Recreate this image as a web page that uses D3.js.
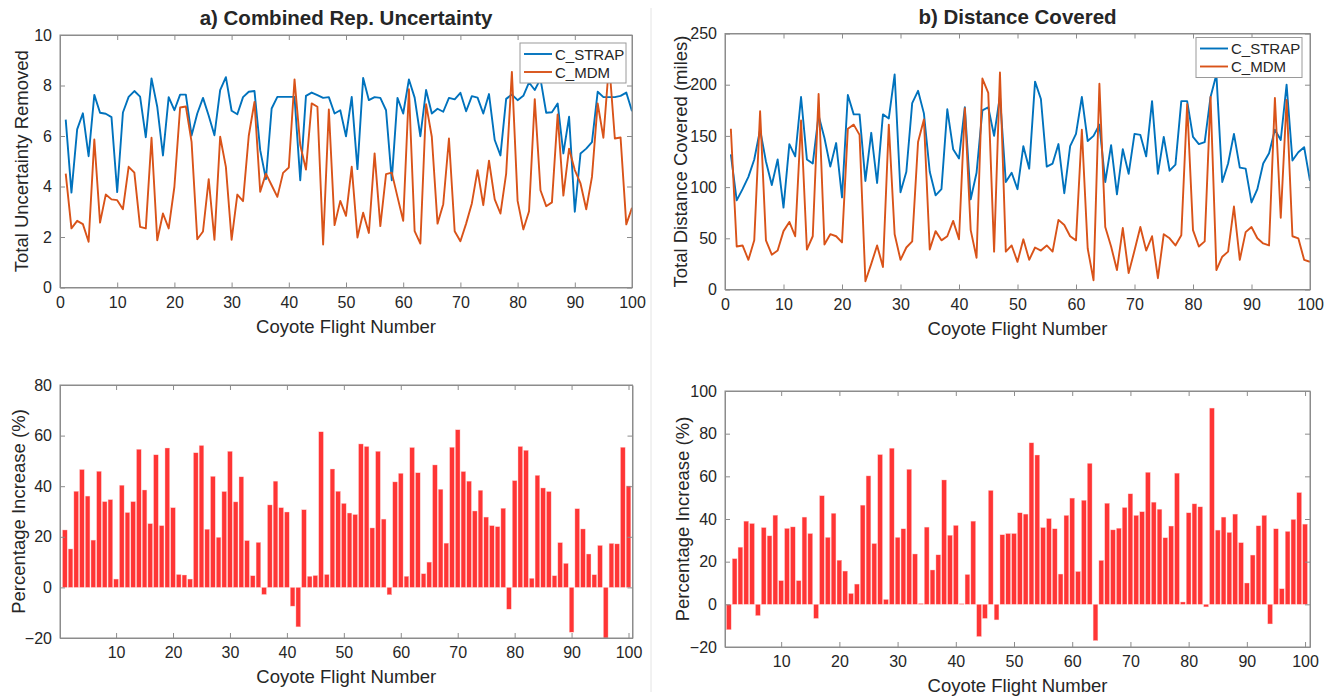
<!DOCTYPE html>
<html>
<head>
<meta charset="utf-8">
<script src="https://cdn.jsdelivr.net/npm/d3@7"></script>
<style>
  body { margin: 0; background: #fff; }
  text { font-family: "Liberation Sans", Arial, sans-serif; fill: #262626; }
</style>
</head>
<body>
<div id="chart"></div>
<script>
// flight numbers 1..100
const flights = d3.range(1, 101);

// a) combined rep. uncertainty removed
const strapUnc = [6.65,3.76,6.26,6.9,5.2,7.63,6.92,6.88,6.75,3.78,
  6.93,7.55,7.78,7.56,5.95,8.28,7.16,5.23,7.54,7.02,
  7.64,7.64,6.02,6.89,7.51,6.8,6.03,7.82,8.33,7.0,
  6.86,7.54,7.75,7.78,5.44,4.29,7.09,7.55,7.55,7.55,
  7.55,4.25,7.59,7.72,7.62,7.51,7.54,6.89,7.02,5.99,
  7.55,4.69,8.3,7.42,7.54,7.51,7.02,4.25,7.51,6.89,
  8.24,7.52,5.99,7.82,6.89,7.08,6.96,7.51,7.45,7.71,
  6.98,7.58,7.52,6.89,7.66,5.84,5.23,7.47,7.64,7.42,
  7.59,8.12,7.82,8.26,6.92,6.94,7.29,5.31,6.76,3.0,
  5.31,5.5,5.76,7.75,7.54,7.54,7.54,7.59,7.72,6.98];
const mdmUnc = [4.51,2.34,2.64,2.51,1.81,5.86,2.57,3.68,3.49,3.46,
  3.1,4.78,4.55,2.4,2.34,5.93,1.87,2.93,2.34,3.99,
  7.13,7.17,5.77,1.91,2.22,4.29,1.89,5.97,4.78,1.89,
  3.68,3.42,6.01,7.35,3.79,4.51,4.05,3.59,4.54,4.75,
  8.24,5.64,4.67,7.29,7.16,1.7,7.05,2.47,3.43,2.84,
  4.78,1.98,2.96,2.16,5.31,2.43,4.49,4.55,3.59,2.64,
  7.85,2.23,1.74,7.26,5.97,2.53,3.3,5.9,2.23,1.83,
  2.53,3.33,4.65,3.26,5.02,3.49,2.93,4.51,8.54,3.43,
  2.3,3.02,7.46,3.85,3.22,3.37,6.85,3.64,5.5,4.65,
  4.12,3.1,4.38,7.29,5.93,8.9,5.9,5.94,2.5,3.16];

// b) distance covered (miles)
const strapDist = [132,87,98,110,127,156,125,102,127,80,
  142,130,188,127,123,170,148,120,143,90,
  190,171,171,106,153,104,171,167,210,95,
  115,182,194,172,115,92,98,176,137,128,
  178,88,114,175,178,150,189,105,114,98,
  140,118,203,186,120,123,142,94,140,152,
  188,145,150,161,105,141,93,137,113,152,
  151,130,184,113,149,116,122,184,184,149,
  142,144,188,210,105,123,152,119,118,85,
  98,123,133,156,146,200,126,134,139,106];
const mdmDist = [157,42,43,29,48,174,48,34,38,57,
  66,52,165,39,52,191,44,54,52,46,
  157,161,151,8,25,43,22,161,54,29,
  41,47,144,166,39,57,48,52,67,49,
  177,58,31,206,192,37,212,37,43,27,
  49,29,41,38,43,37,68,63,52,48,
  156,40,9,201,61,42,19,60,16,38,
  61,38,52,11,54,50,43,53,181,58,
  42,47,188,19,32,37,81,29,56,61,
  50,45,43,187,70,185,52,50,29,27];

// percentage increase
const pctUnc = [22.7,15.2,38,46.6,36.1,18.7,45.9,33.9,34.7,3.3,
  40.4,29.6,33.9,54.6,38.5,25.2,52.4,24.4,55.1,31.5,
  5.1,4.9,3.3,53.2,56.1,23,43.9,19.8,37.9,53.8,
  33.8,43.7,18.5,4.6,17.8,-2.8,32.6,42,31.5,29.8,
  -7.4,-15.6,30.7,4.4,4.7,61.5,5.1,46.8,38,33.2,
  29.4,28.8,56.7,55.7,23.5,53.8,27,-2.9,41.7,45.1,
  4.4,55.3,45.3,5.4,10,48.4,38.8,17.5,55.4,62.3,
  45.8,42,30.2,38.4,27.8,24.4,24,31.3,-8.6,42.2,
  55.7,54.2,3.6,44.3,39.3,37.9,4.6,17.7,9.5,-17.7,
  31.1,23.1,13.2,5,16.6,-20,17.4,17.2,55.4,40.1];
const pctDist = [-11.9,21.4,26.8,39,37.9,-5.3,36,32.1,41.8,11.1,
  35.6,36.3,11.1,40.9,33.2,-6.6,50.9,31.4,42.7,20.7,
  15.6,5.1,9.5,46.5,60.2,28.5,70.2,2.3,73.2,31.4,
  35.4,63.3,23.6,0.4,36.2,16.1,23.2,58.3,32.4,37,
  0.3,14,39,-15.1,-6.6,53.4,-7.3,32.6,33.2,33.2,
  42.9,42.3,75.7,70,36,40.2,35.4,14.2,41.7,49.8,
  15.4,48.8,66.1,-17,20.6,47.4,34.9,35.7,45.4,51.8,
  41.7,43.4,61.9,47.9,44.6,31.2,36.7,61.5,1.1,42.9,
  47.1,45.7,-1.2,92,34.8,40.9,33.7,42.3,28.9,10,
  23.1,36.8,41.7,-9.2,35.4,7.3,34.2,39.8,52.4,37.6];

const blue = "#0072BD", orange = "#D95319", red = "#ff3535";
const axisCol = "#8c8c8c";

const svg = d3.select("#chart")
  .append("svg")
  .attr("width", 1334)
  .attr("height", 696);

// faint divider between the two halves
svg.append("line")
  .attr("x1", 651).attr("x2", 651).attr("y1", 8).attr("y2", 692)
  .attr("stroke", "#e4e4e4").attr("stroke-width", 1);

// draws the box + inward ticks, MATLAB style
function drawAxes(g, x, y, w, h, xTicks, yTicks) {
  g.append("rect")
    .attr("width", w).attr("height", h)
    .attr("fill", "none").attr("stroke", axisCol).attr("stroke-width", 1);

  // Add X axis
  g.append("g")
    .attr("transform", `translate(0, ${h})`)
    .call(d3.axisBottom(x).tickValues(xTicks).tickSizeInner(-5).tickSizeOuter(0).tickPadding(9));
  g.append("g")
    .call(d3.axisTop(x).tickValues(xTicks).tickSizeInner(-5).tickSizeOuter(0).tickFormat(""));

  // Add Y axis
  g.append("g")
    .call(d3.axisLeft(y).tickValues(yTicks).tickSizeInner(-5).tickSizeOuter(0).tickPadding(8));
  g.append("g")
    .attr("transform", `translate(${w}, 0)`)
    .call(d3.axisRight(y).tickValues(yTicks).tickSizeInner(-5).tickSizeOuter(0).tickFormat(""));

  g.selectAll(".domain").attr("stroke", axisCol);
  g.selectAll(".tick line").attr("stroke", axisCol);
  g.selectAll(".tick text")
    .attr("font-size", 16)
    .attr("font-family", "Liberation Sans, Arial, sans-serif")
    .attr("fill", "#262626");
}

function linePanel(box, seriesA, seriesB, yMax, yStep, ylabel, title, id) {
  const w = box.right - box.left, h = box.bottom - box.top;
  const g = svg.append("g").attr("transform", `translate(${box.left}, ${box.top})`);

  const x = d3.scaleLinear().domain([0, 100]).range([0, w]);
  const y = d3.scaleLinear().domain([0, yMax]).range([h, 0]);

  g.append("clipPath").attr("id", id)
    .append("rect").attr("width", w).attr("height", h);

  const line = d3.line()
    .x((d, i) => x(flights[i]))
    .y(d => y(d));

  // C_STRAP first, C_MDM drawn on top
  g.append("path").datum(seriesA)
    .attr("clip-path", `url(#${id})`)
    .attr("fill", "none").attr("stroke", blue).attr("stroke-width", 1.9)
    .attr("stroke-linejoin", "round")
    .attr("d", line);
  g.append("path").datum(seriesB)
    .attr("clip-path", `url(#${id})`)
    .attr("fill", "none").attr("stroke", orange).attr("stroke-width", 1.9)
    .attr("stroke-linejoin", "round")
    .attr("d", line);

  drawAxes(g, x, y, w, h, d3.range(0, 101, 10), d3.range(0, yMax + 1, yStep));

  // legend
  const lg = g.append("g").attr("transform", `translate(${box.legX}, ${box.legY})`);
  lg.append("rect").attr("width", 106).attr("height", 40)
    .attr("fill", "#fff").attr("stroke", "#9a9a9a").attr("stroke-width", 1);
  [["C_STRAP", blue], ["C_MDM", orange]].forEach((d, i) => {
    lg.append("line").attr("x1", 4).attr("x2", 32)
      .attr("y1", 11 + i * 18).attr("y2", 11 + i * 18)
      .attr("stroke", d[1]).attr("stroke-width", 1.9);
    lg.append("text").attr("x", 35).attr("y", 16.5 + i * 18)
      .attr("font-size", 15).text(d[0]);
  });

  g.append("text")
    .attr("x", w / 2).attr("y", h + 45)
    .attr("text-anchor", "middle").attr("font-size", 18.5)
    .text("Coyote Flight Number");
  g.append("text")
    .attr("transform", `translate(${box.ylabX}, ${h / 2}) rotate(-90)`)
    .attr("text-anchor", "middle").attr("font-size", 18.5)
    .text(ylabel);
  g.append("text")
    .attr("x", w / 2).attr("y", -10)
    .attr("text-anchor", "middle").attr("font-size", 20.5).attr("font-weight", "bold")
    .text(title);
}

function barPanel(box, values, yMin, yMax, id) {
  const w = box.right - box.left, h = box.bottom - box.top;
  const g = svg.append("g").attr("transform", `translate(${box.left}, ${box.top})`);

  const x = d3.scaleLinear().domain(box.xDom).range([0, w]);
  const y = d3.scaleLinear().domain([yMin, yMax]).range([h, 0]);
  const bw = (x(1) - x(0)) * 0.82;

  g.append("clipPath").attr("id", id)
    .append("rect").attr("width", w).attr("height", h);

  g.append("g").attr("clip-path", `url(#${id})`)
    .selectAll("rect")
    .data(values)
    .join("rect")
    .attr("x", (d, i) => x(flights[i]) - bw / 2)
    .attr("width", bw)
    .attr("y", d => y(Math.max(0, d)))
    .attr("height", d => Math.abs(y(d) - y(0)))
    .attr("fill", red)
    .attr("stroke", "#ffd0d0").attr("stroke-width", 0.4);

  drawAxes(g, x, y, w, h, d3.range(10, 101, 10), d3.range(yMin, yMax + 1, 20));

  g.append("text")
    .attr("x", w / 2).attr("y", h + 45)
    .attr("text-anchor", "middle").attr("font-size", 18.5)
    .text("Coyote Flight Number");
  g.append("text")
    .attr("transform", `translate(${box.ylabX}, ${h / 2}) rotate(-90)`)
    .attr("text-anchor", "middle").attr("font-size", 18.5)
    .text("Percentage Increase (%)");
}

linePanel({left: 60, right: 632, top: 35, bottom: 287.5, legX: 460, legY: 8, ylabX: -32},
  strapUnc, mdmUnc, 10, 2, "Total Uncertainty Removed", "a) Combined Rep. Uncertainty", "clipA");
linePanel({left: 725, right: 1310, top: 33.5, bottom: 289.5, legX: 471, legY: 4, ylabX: -38},
  strapDist, mdmDist, 250, 50, "Total Distance Covered (miles)", "b) Distance Covered", "clipB");

barPanel({left: 60, right: 632.5, top: 385, bottom: 638, xDom: [0.15, 100.7], ylabX: -35},
  pctUnc, -20, 80, "clipC");
barPanel({left: 725, right: 1310, top: 391, bottom: 647, xDom: [0.35, 100.85], ylabX: -36},
  pctDist, -20, 100, "clipD");
</script>
</body>
</html>
